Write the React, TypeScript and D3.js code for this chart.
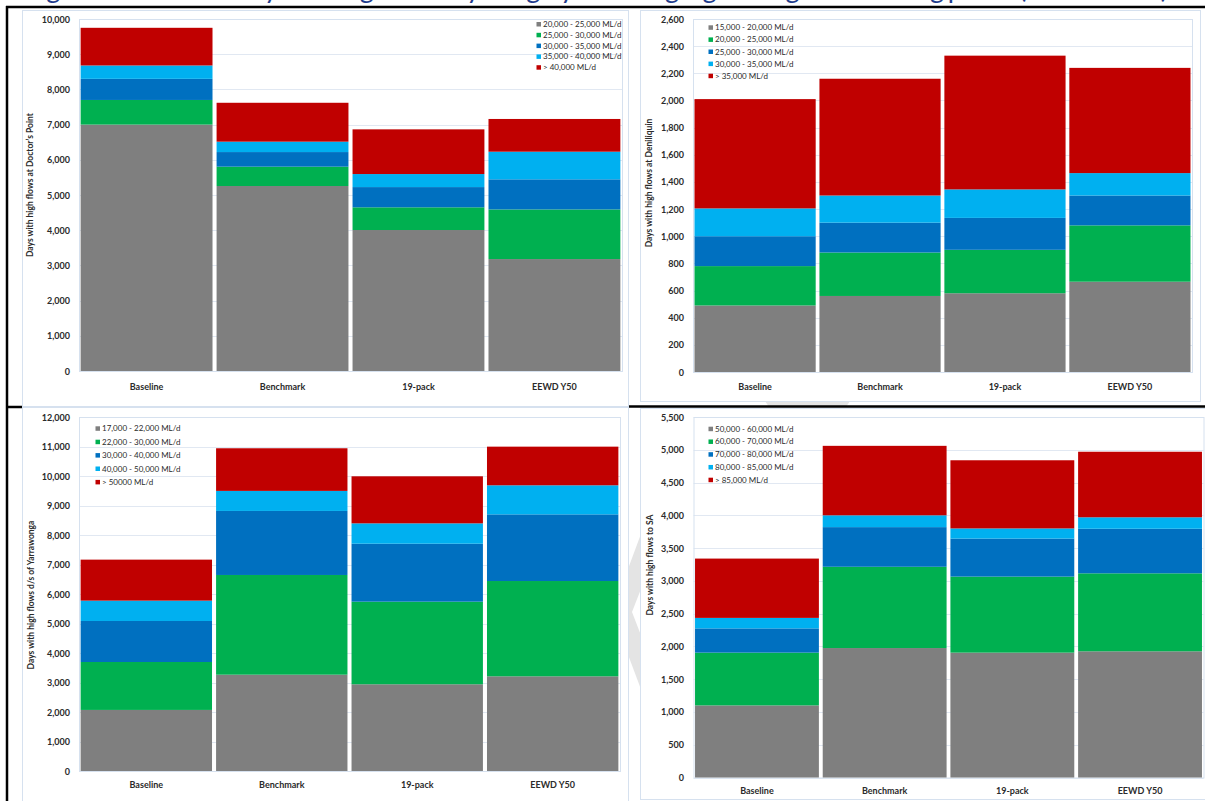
import React from "react";
import * as d3 from "d3";

// Scenario categories shared by all four gauges
const scenarios = ["Baseline", "Benchmark", "19-pack", "EEWD Y50"];

// Band colours (lowest flow band first)
const bandColors = ["#7f7f7f", "#00b050", "#0070c0", "#00b0f0", "#c00000"];

// Doctor's Point
const dpBands = ["20,000 - 25,000 ML/d", "25,000 - 30,000 ML/d", "30,000 - 35,000 ML/d", "35,000 - 40,000 ML/d", "> 40,000 ML/d"];
const dpValues = [
  [7000, 5255, 4005, 3180],
  [700, 550, 645, 1410],
  [600, 415, 575, 855],
  [380, 295, 370, 785],
  [1070, 1105, 1270, 930],
];

// Deniliquin
const denBands = ["15,000 - 20,000 ML/d", "20,000 - 25,000 ML/d", "25,000 - 30,000 ML/d", "30,000 - 35,000 ML/d", "> 35,000 ML/d"];
const denValues = [
  [490, 560, 580, 665],
  [290, 320, 320, 415],
  [220, 220, 235, 220],
  [205, 200, 210, 165],
  [805, 860, 985, 775],
];

// Downstream of Yarrawonga
const yarBands = ["17,000 - 22,000 ML/d", "22,000 - 30,000 ML/d", "30,000 - 40,000 ML/d", "40,000 - 50,000 ML/d", "> 50000 ML/d"];
const yarValues = [
  [2070, 3265, 2940, 3210],
  [1625, 3380, 2800, 3230],
  [1390, 2170, 1965, 2260],
  [690, 680, 690, 985],
  [1390, 1445, 1595, 1310],
];

// Flow to South Australia
const saBands = ["50,000 - 60,000 ML/d", "60,000 - 70,000 ML/d", "70,000 - 80,000 ML/d", "80,000 - 85,000 ML/d", "> 85,000 ML/d"];
const saValues = [
  [1100, 1975, 1905, 1925],
  [805, 1240, 1160, 1190],
  [370, 605, 580, 680],
  [160, 180, 155, 175],
  [905, 1060, 1040, 1000],
];

const FONT = "Lato, 'Open Sans', 'Liberation Sans', sans-serif";
const TEXT = "#2b2b2b";
const FRAME = "#d6e1ef";
const GRID = "#e1e8f2";

type PanelCfg = {
  title: string;
  bands: string[];
  values: number[][];
  max: number;
  step: number;
  frame: { x0: number; y0: number; x1: number; y1: number };
  plot: { x0: number; x1: number; y0: number; y1: number };
  tickRight: number;
  catY: number;
  titleX: number;
  titleY: number;
  legend: { x: number; y: number; dy: number };
};

const panels: PanelCfg[] = [
  {
    title: "Days with high flows at Doctor\u2019s Point",
    bands: dpBands,
    values: dpValues,
    max: 10000,
    step: 1000,
    frame: { x0: 22.5, y0: 10.5, x1: 628.5, y1: 406.5 },
    plot: { x0: 79, x1: 622, y0: 371, y1: 19 },
    tickRight: 70,
    catY: 386,
    titleX: 30,
    titleY: 185,
    legend: { x: 536, y: 24, dy: 10.8 },
  },
  {
    title: "Days with high flows at Deniliquin",
    bands: denBands,
    values: denValues,
    max: 2600,
    step: 200,
    frame: { x0: 640.5, y0: 10.5, x1: 1200.5, y1: 401.5 },
    plot: { x0: 693, x1: 1192, y0: 372, y1: 19 },
    tickRight: 684,
    catY: 386,
    titleX: 649,
    titleY: 183,
    legend: { x: 708, y: 27.3, dy: 12.1 },
  },
  {
    title: "Days with high flows d/s of Yarrawonga",
    bands: yarBands,
    values: yarValues,
    max: 12000,
    step: 1000,
    frame: { x0: 22.5, y0: 407.5, x1: 628.5, y1: 812 },
    plot: { x0: 79, x1: 620, y0: 771, y1: 417 },
    tickRight: 70,
    catY: 784,
    titleX: 31,
    titleY: 595,
    legend: { x: 95, y: 428.3, dy: 13.4 },
  },
  {
    title: "Days with high flows to SA",
    bands: saBands,
    values: saValues,
    max: 5500,
    step: 500,
    frame: { x0: 640.5, y0: 408.5, x1: 1215, y1: 799.5 },
    plot: { x0: 693.5, x1: 1203.5, y0: 777.5, y1: 417 },
    tickRight: 684,
    catY: 790,
    titleX: 650,
    titleY: 565,
    legend: { x: 708, y: 428.7, dy: 12.75 },
  },
];

function Panel({ cfg }: { cfg: PanelCfg }) {
  const x = d3
    .scaleBand<string>()
    .domain(scenarios)
    .range([cfg.plot.x0, cfg.plot.x1])
    .paddingInner(0.03)
    .paddingOuter(0.012);
  const y = d3.scaleLinear().domain([0, cfg.max]).range([cfg.plot.y0, cfg.plot.y1]);
  const keys = cfg.bands.map((_, i) => `b${i}`);
  const rows = scenarios.map((name, j) => {
    const r: Record<string, any> = { name };
    cfg.values.forEach((arr, k) => (r[`b${k}`] = arr[j]));
    return r;
  });
  const stacked = d3.stack<Record<string, any>>().keys(keys)(rows);
  const ticks = d3.range(0, cfg.max + cfg.step / 2, cfg.step);
  const fmt = d3.format(",");
  const f = cfg.frame;

  return (
    <g>
      <rect x={f.x0} y={f.y0} width={f.x1 - f.x0} height={f.y1 - f.y0} fill="#fff" stroke={FRAME} strokeWidth={1} />
      {/* gridlines */}
      {ticks.map((t) => (
        <line
          key={`g${t}`}
          x1={cfg.plot.x0}
          x2={cfg.plot.x1}
          y1={Math.round(y(t)) + 0.5}
          y2={Math.round(y(t)) + 0.5}
          stroke={GRID}
          strokeWidth={1}
        />
      ))}
      <rect
        x={cfg.plot.x0 + 0.5}
        y={cfg.plot.y1 + 0.5}
        width={cfg.plot.x1 - cfg.plot.x0}
        height={cfg.plot.y0 - cfg.plot.y1}
        fill="none"
        stroke={FRAME}
        strokeWidth={1}
      />
      {/* stacked bars */}
      {stacked.map((layer, k) => (
        <g key={layer.key} fill={bandColors[k]}>
          {layer.map((seg, j) => (
            <rect
              key={j}
              x={x(scenarios[j])}
              width={x.bandwidth()}
              y={y(seg[1])}
              height={y(seg[0]) - y(seg[1])}
            />
          ))}
        </g>
      ))}
      {/* y tick labels */}
      {ticks.map((t) => (
        <text
          key={`t${t}`}
          x={cfg.tickRight}
          y={y(t)}
          textAnchor="end"
          dominantBaseline="central"
          fontFamily={FONT}
          fontWeight="bold"
          fontSize={9}
          fill={TEXT}
        >
          {fmt(t)}
        </text>
      ))}
      {/* category labels */}
      {scenarios.map((s) => (
        <text
          key={s}
          x={(x(s) as number) + x.bandwidth() / 2}
          y={cfg.catY}
          textAnchor="middle"
          dominantBaseline="central"
          fontFamily={FONT}
          fontWeight="bold"
          fontSize={9}
          fill={TEXT}
        >
          {s}
        </text>
      ))}
      {/* axis title */}
      <text
        transform={`translate(${cfg.titleX},${cfg.titleY}) rotate(-90)`}
        textAnchor="middle"
        dominantBaseline="central"
        fontFamily={FONT}
        fontWeight="bold"
        fontSize={8.5}
        fill={TEXT}
      >
        {cfg.title}
      </text>
      {/* legend */}
      {cfg.bands.map((b, i) => (
        <g key={b} transform={`translate(${cfg.legend.x},${cfg.legend.y + i * cfg.legend.dy})`}>
          <rect x={0.5} y={-2} width={4.5} height={4.5} fill={bandColors[i]} />
          <text x={7} y={0} dominantBaseline="central" fontFamily={FONT} fontSize={8} fill={TEXT}>
            {b}
          </text>
        </g>
      ))}
    </g>
  );
}

export default function App() {
  return (
    <svg
      width={1205}
      height={801}
      viewBox="0 0 1205 801"
      style={{ position: "absolute", left: 0, top: 0, background: "#fff" }}
    >
      <rect x={0} y={0} width={1205} height={801} fill="#fff" />
      {/* faint page decoration behind the charts */}
      <polygon points="648,515 664,530 632,612 664,695 648,708 612,612" fill="#e4e4e4" />
      <polygon points="765,401 850,401 846,407 769,407" fill="#e4e4e4" />
      {/* heading running above the figure (only its lower edge falls on the page) */}
      <text
        x={28}
        y={-2}
        fontFamily={FONT}
        fontSize={27}
        fill="#1f3c8c"
        textLength={1140}
        lengthAdjust="spacing"
      >
        Figure 9: Number of days with high flows by category for each gauge during the modelling period (1895 – 2009)
      </text>
      {panels.map((p, i) => (
        <Panel key={i} cfg={p} />
      ))}
      {/* table borders */}
      <line x1={6} x2={1205} y1={7} y2={7} stroke="#000" strokeWidth={2.5} />
      <line x1={7} x2={7} y1={6} y2={801} stroke="#000" strokeWidth={2.5} />
      <line x1={6} x2={22} y1={407} y2={407} stroke="#000" strokeWidth={2.5} />
      <line x1={629} x2={1205} y1={406.5} y2={406.5} stroke="#000" strokeWidth={2.5} />
    </svg>
  );
}
